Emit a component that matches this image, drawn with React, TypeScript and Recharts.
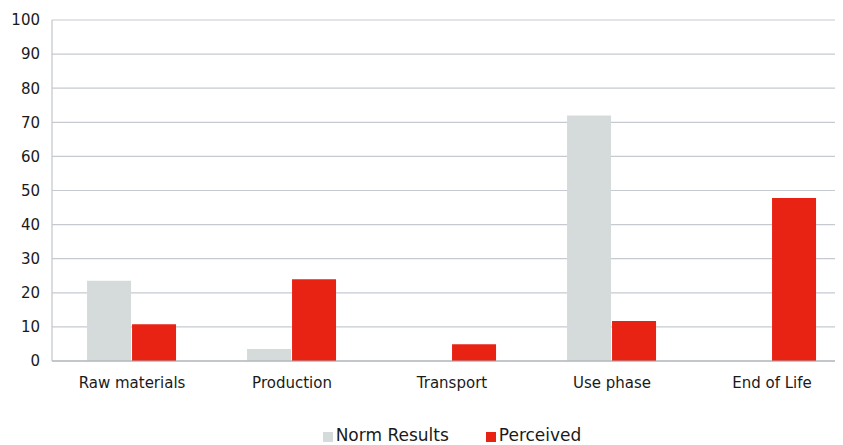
import React from 'react'
import { BarChart, Bar, XAxis, YAxis, CartesianGrid, Legend } from 'recharts'

const phases = ['Raw materials', 'Production', 'Transport', 'Use phase', 'End of Life']
const normResults = [23.5, 3.5, 0, 72, 0]
const perceived = [10.8, 24, 4.9, 11.7, 47.8]
const yTicks = [0, 10, 20, 30, 40, 50, 60, 70, 80, 90, 100]

const data = phases.map((phase, i) => ({
  phase,
  norm: normResults[i],
  perceived: perceived[i],
}))

const font = 'DejaVu Sans, Verdana, sans-serif'

// legend is centred on the plot area, not on the whole chart
const renderLegend = (props: any) => {
  const { payload = [] } = props
  return (
    <div
      style={{
        display: 'flex',
        justifyContent: 'center',
        paddingLeft: 44,
        height: 20,
        lineHeight: '22px',
        fontFamily: font,
        fontSize: 17,
        color: '#1a1a1a',
      }}
    >
      {payload.map((entry: any, i: number) => (
        <div key={entry.value} style={{ display: 'flex', alignItems: 'center', marginLeft: i === 0 ? 0 : 37 }}>
          <span style={{ width: 10, height: 10, background: entry.color, marginRight: 3, marginTop: 3, display: 'inline-block' }} />
          <span>{entry.value}</span>
        </div>
      ))}
    </div>
  )
}

const App: React.FC = () => {
  return (
    <div style={{ width: 835, height: 437, overflow: 'hidden' }}>
      <BarChart
        width={844}
        height={437}
        data={data}
        margin={{ top: 12, right: 0, bottom: 0, left: 0 }}
        barCategoryGap="21.9%"
        barGap={1}
      >
        <CartesianGrid vertical={false} stroke="#c6cad0" strokeWidth={1.2} />
        <XAxis
          dataKey="phase"
          tickLine={false}
          tickSize={0}
          tickMargin={16}
          height={64}
          stroke="#a3a8ae"
          strokeWidth={1.2}
          tick={{ fill: '#1a1a1a', fontSize: 15, fontFamily: font }}
        />
        <YAxis
          width={44}
          domain={[0, 100]}
          ticks={yTicks}
          tickLine={false}
          tickSize={0}
          tickMargin={12}
          stroke="#c2c6cc"
          strokeWidth={1.2}
          tick={{ fill: '#1a1a1a', fontSize: 15, fontFamily: font }}
        />
        <Legend verticalAlign="bottom" height={20} content={renderLegend} />
        <Bar dataKey="norm" name="Norm Results" fill="#d5dbdb" isAnimationActive={false} />
        <Bar dataKey="perceived" name="Perceived" fill="#e82314" isAnimationActive={false} />
      </BarChart>
    </div>
  )
}

export default App
